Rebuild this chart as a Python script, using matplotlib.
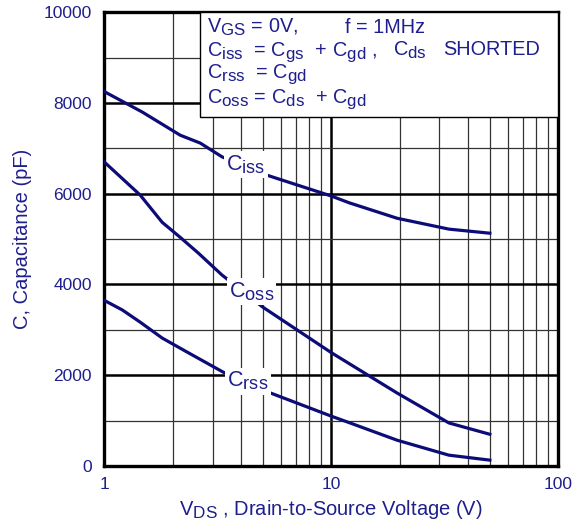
import matplotlib
matplotlib.use('Agg')
import matplotlib.pyplot as plt
import matplotlib._mathtext as mathtext_internal
from matplotlib.patches import Rectangle
from matplotlib.ticker import FixedLocator, NullFormatter

plt.rcParams['font.family'] = ['Liberation Sans', 'DejaVu Sans']
plt.rcParams['mathtext.default'] = 'regular'
# subscripts in the original are nearly full size
mathtext_internal.SHRINK_FACTOR = 0.85

# Data (V_DS in volts, capacitance in pF)
vds_iss = [1, 1.47, 2.16, 2.65, 3.31, 5.2, 10, 12, 19.5, 33, 50]
c_iss = [8250, 7800, 7290, 7115, 6810, 6410, 5950, 5800, 5460, 5220, 5130]

vds_oss = [1, 1.44, 1.8, 2.16, 2.6, 3.3, 5.0, 10, 19.5, 33, 50]
c_oss = [6700, 5970, 5370, 5040, 4690, 4210, 3500, 2500, 1610, 950, 700]

vds_rss = [1, 1.2, 1.44, 1.8, 2.32, 3.34, 5.4, 10, 12.1, 19.5, 33, 50]
c_rss = [3650, 3440, 3170, 2820, 2510, 2070, 1610, 1100, 950, 570, 240, 130]

y_ticks = [0, 2000, 4000, 6000, 8000, 10000]
x_ticks = [1, 10, 100]

navy = '#0c0c78'
txt = '#1e1e8c'

fig = plt.figure(figsize=(5.76, 5.29), dpi=100)
ax = fig.add_axes([0.181, 0.119, 0.788, 0.858])

ax.set_xscale('log')
ax.set_xlim(1, 100)
ax.set_ylim(0, 10000)

# grid
ax.xaxis.set_major_locator(FixedLocator(x_ticks))
ax.xaxis.set_minor_locator(FixedLocator([d * k for d in (1, 10) for k in range(2, 10)]))
ax.xaxis.set_minor_formatter(NullFormatter())
ax.set_xticklabels([str(t) for t in x_ticks])
ax.yaxis.set_major_locator(FixedLocator(y_ticks))
ax.yaxis.set_minor_locator(FixedLocator(range(1000, 10000, 2000)))
ax.grid(which='major', color='black', lw=1.8)
ax.grid(which='minor', color='#333333', lw=0.9)
ax.set_axisbelow(True)

ax.tick_params(which='both', length=0, colors=txt, labelsize=12.5)
ax.tick_params(axis='y', pad=9)
ax.tick_params(axis='x', pad=8)
for s in ax.spines.values():
    s.set_linewidth(2.4)

ax.plot(vds_iss, c_iss, color=navy, lw=2.3, zorder=3)
ax.plot(vds_oss, c_oss, color=navy, lw=2.3, zorder=3)
ax.plot(vds_rss, c_rss, color=navy, lw=2.3, zorder=3)

lbl_box = dict(facecolor='white', edgecolor='none', pad=1.5)
ax.text(4.2, 6650, '$C_{iss}$', color=txt, fontsize=15.5, ha='center', va='center',
        bbox=lbl_box, zorder=4)
ax.text(4.45, 3850, '$C_{oss}$', color=txt, fontsize=15.5, ha='center', va='center',
        bbox=lbl_box, zorder=4)
ax.text(4.3, 1870, '$C_{rss}$', color=txt, fontsize=15.5, ha='center', va='center',
        bbox=lbl_box, zorder=4)

# condition box
ax.add_patch(Rectangle((0.211, 0.769), 0.789, 0.231, transform=ax.transAxes,
                       facecolor='white', edgecolor='black', lw=1.0, zorder=5))
fs = 14.3
kw = dict(transform=ax.transAxes, color=txt, fontsize=fs, va='baseline', zorder=6)
ax.text(0.227, 0.954, '$V_{GS}$ = 0V,', **kw)
ax.text(0.531, 0.954, 'f = 1MHz', **kw)
ax.text(0.227, 0.905, '$C_{iss}$  = $C_{gs}$  + $C_{gd}$ ,', **kw)
ax.text(0.637, 0.905, '$C_{ds}$', **kw)
ax.text(0.747, 0.905, 'SHORTED', **kw)
ax.text(0.227, 0.855, '$C_{rss}$  = $C_{gd}$', **kw)
ax.text(0.227, 0.800, '$C_{oss}$ = $C_{ds}$  + $C_{gd}$', **kw)

ax.set_xlabel('$V_{DS}$ , Drain-to-Source Voltage (V)', color=txt, fontsize=14.5, labelpad=4)
ax.set_ylabel('C, Capacitance (pF)', color=txt, fontsize=14.5, labelpad=8)

fig.savefig('out.png', dpi=100)
